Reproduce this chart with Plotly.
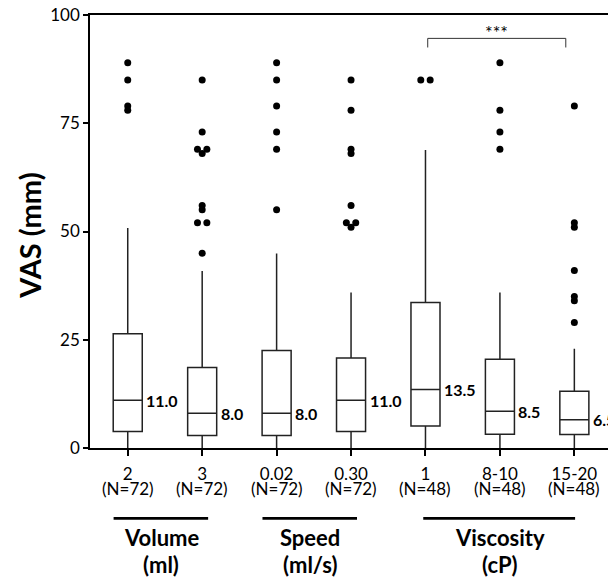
import plotly.graph_objects as go

categories = ["2", "3", "0.02", "0.30", "1", "8-10", "15-20"]
n_counts = [72, 72, 72, 72, 48, 48, 48]
q1 = [3.8, 2.9, 2.9, 3.8, 5.1, 3.2, 3.1]
medians = [11.0, 8.0, 8.0, 11.0, 13.5, 8.5, 6.5]
q3 = [26.4, 18.6, 22.5, 20.8, 33.6, 20.5, 13.1]
upper_whisker = [50.8, 40.9, 44.9, 35.9, 68.8, 35.9, 22.9]
lower_whisker = [0, 0, 0, 0, 0, 0, 0]
outliers = [
    [89, 85, 79, 78],
    [85, 73, 69, 69, 68, 56, 55, 52, 52, 45],
    [89, 85, 79, 73, 69, 55],
    [85, 78, 69, 68, 56, 52, 52, 51],
    [85, 85],
    [89, 78, 73, 69],
    [79, 52, 51, 41, 35, 34, 29],
]
groups = [("Volume", "(ml)", 0, 1), ("Speed", "(ml/s)", 2, 3), ("Viscosity", "(cP)", 4, 6)]
median_labels = ["11.0", "8.0", "8.0", "11.0", "13.5", "8.5", "6.5"]
sig_text = "***"
sig_pair = (4, 6)

FONT = "Lato"
LINE = "#222222"
BOX_W = 0.39

xs = list(range(len(categories)))

fig = go.Figure()
fig.add_trace(go.Box(
    x=xs, q1=q1, median=medians, q3=q3,
    lowerfence=lower_whisker, upperfence=upper_whisker,
    width=BOX_W, whiskerwidth=0,
    fillcolor="white", line=dict(color=LINE, width=1.5),
    boxpoints=False, showlegend=False, hoverinfo="skip",
))

# outliers, duplicates shown side by side
ox, oy = [], []
for i, vals in enumerate(outliers):
    seen = {}
    for v in vals:
        seen[v] = seen.get(v, 0) + 1
    placed = {}
    for v in vals:
        if seen[v] > 1:
            k = placed.get(v, 0)
            placed[v] = k + 1
            ox.append(i + (-0.063 if k == 0 else 0.063))
        else:
            ox.append(i)
        oy.append(v)
fig.add_trace(go.Scatter(
    x=ox, y=oy, mode="markers",
    marker=dict(color="black", size=7),
    showlegend=False, hoverinfo="skip",
))

annotations = []
for i, (m, lab) in enumerate(zip(medians, median_labels)):
    annotations.append(dict(
        x=i + BOX_W / 2, y=m, xref="x", yref="y", text=lab,
        showarrow=False, xanchor="left", yanchor="middle", xshift=2,
        font=dict(family=FONT, size=16, color="black", weight="bold"),
    ))

# N counts under category tick labels
for i, n in enumerate(n_counts):
    annotations.append(dict(
        x=i, y=-0.0935, xref="x", yref="paper", text=f"(N={n})",
        showarrow=False, xanchor="center", yanchor="middle",
        font=dict(family=FONT, size=17, color="black"),
    ))

shapes = []
for name, unit, a, b in groups:
    x0 = a - 0.19 if b - a == 1 else a - 0.03
    x1 = b + 0.08 if b - a == 1 else b + 0.01
    shapes.append(dict(type="line", xref="x", yref="paper", x0=x0, x1=x1,
                       y0=-0.1625, y1=-0.1625, line=dict(color="black", width=2.7)))
    cx = (a + b) / 2 - (0.05 if b - a == 1 else 0)
    annotations.append(dict(
        x=cx, y=-0.2077, xref="x", yref="paper", text=name,
        showarrow=False, xanchor="center", yanchor="middle",
        font=dict(family=FONT, size=22, color="black", weight="bold"),
    ))
    annotations.append(dict(
        x=cx, y=-0.270, xref="x", yref="paper", text=unit,
        showarrow=False, xanchor="center", yanchor="middle",
        font=dict(family=FONT, size=22, color="black", weight="bold"),
    ))

# significance bracket
sa, sb = sig_pair
bx0, bx1 = sa + 0.03, sb - 0.115
shapes.append(dict(type="path", xref="x", yref="y",
                   path=f"M {bx0},92.5 L {bx0},94.6 L {bx1},94.6 L {bx1},92.5",
                   line=dict(color="#333333", width=1)))
annotations.append(dict(x=(bx0 + bx1) / 2, y=96.0, xref="x", yref="y", text=sig_text,
                        showarrow=False, xanchor="center", yanchor="middle",
                        font=dict(family=FONT, size=18, color="black")))

annotations.append(dict(
    x=-0.1158, y=0.49, xref="paper", yref="paper", text="VAS (mm)", textangle=-90,
    showarrow=False, xanchor="center", yanchor="middle",
    font=dict(family=FONT, size=29, color="black", weight="bold"),
))

fig.update_layout(
    width=608, height=579,
    margin=dict(l=90, r=0, t=15, b=131),
    paper_bgcolor="white", plot_bgcolor="white",
    font=dict(family=FONT, size=17, color="black"),
    xaxis=dict(range=[-0.507, 6.452], tickmode="array", tickvals=xs, ticktext=categories,
               showline=True, linecolor="black", linewidth=1.5, mirror=True,
               ticks="outside", ticklen=6, tickwidth=1.5, tickcolor="black",
               ticklabelstandoff=4,
               showgrid=False, zeroline=False, tickfont=dict(size=17)),
    yaxis=dict(range=[0, 100], tickvals=[0, 25, 50, 75, 100],
               showline=True, linecolor="black", linewidth=1.5,
               ticks="outside", ticklen=5, tickwidth=1.5, tickcolor="black",
               showgrid=False, zeroline=False, tickfont=dict(size=17)),
    shapes=shapes, annotations=annotations,
)

fig.write_html("out.html", config={"displayModeBar": False},
               post_script="document.body.style.margin='0';document.body.style.overflow='hidden';")
